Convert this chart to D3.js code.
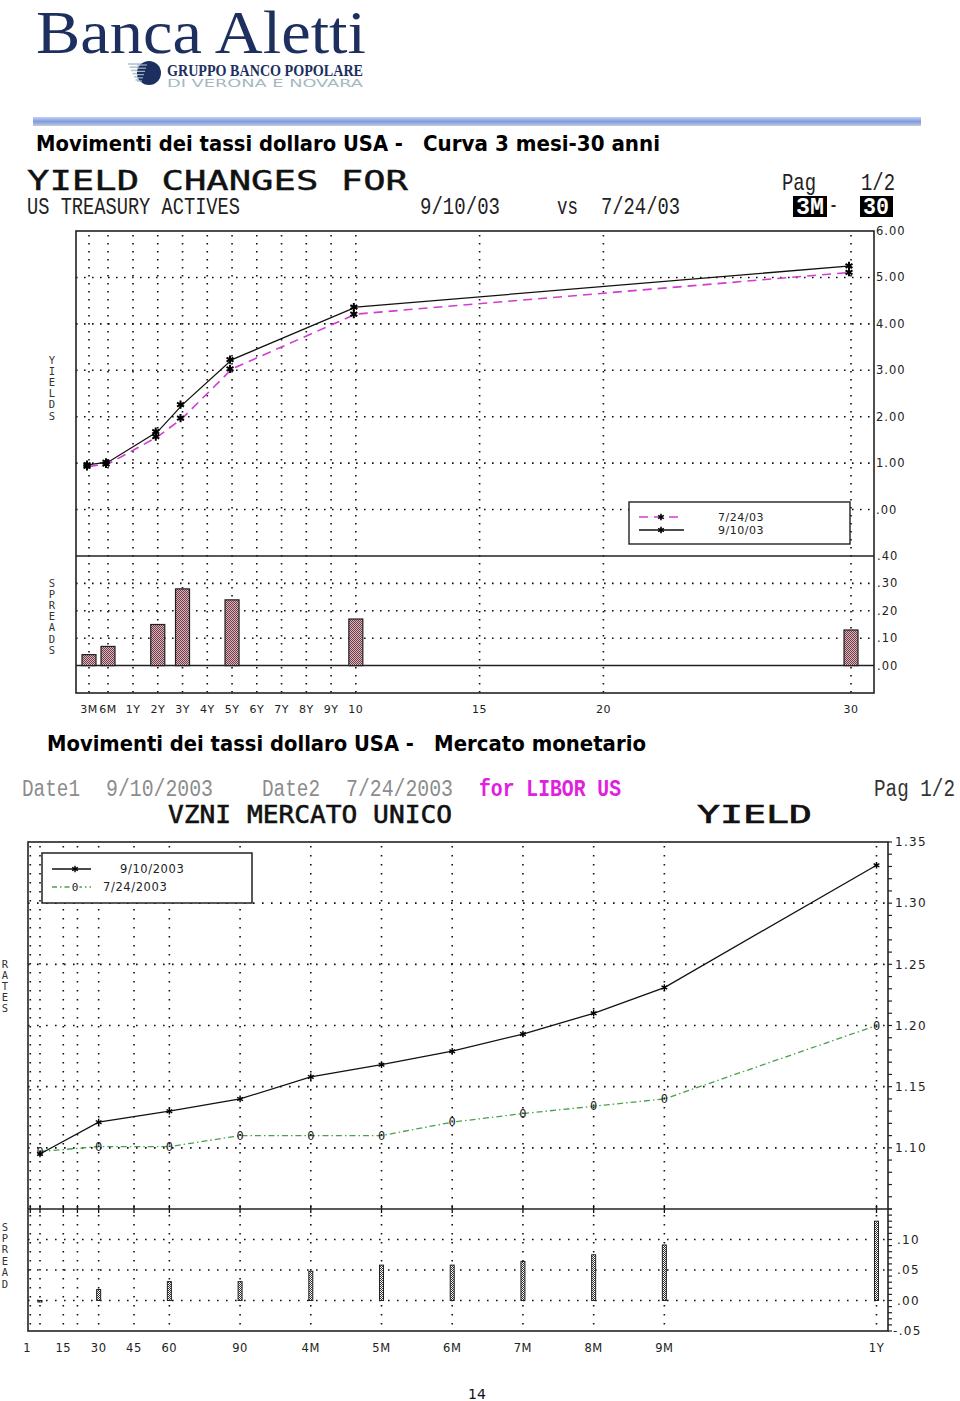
<!DOCTYPE html>
<html><head><meta charset="utf-8">
<script src="https://cdn.jsdelivr.net/npm/d3@7"></script>
<style>body{margin:0;background:#fff}svg{display:block}</style>
</head><body>
<script>
// ---------- Top chart data (US Treasury actives) ----------
const tenorsTop = ["3M","6M","2Y","3Y","5Y","10","30"];
const tenorYears = [0.25,0.5,2,3,5,10,30];
const yields0910 = [0.97,1.02,1.68,2.26,3.23,4.36,5.25];
const yields0724 = [0.93,0.98,1.57,1.97,3.03,4.21,5.11];
const spreadsTop = [0.04,0.07,0.15,0.28,0.24,0.17,0.13];
const xTickLabelsTop = ["3M","6M","1Y","2Y","3Y","4Y","5Y","6Y","7Y","8Y","9Y","10","15","20","30"];
const xTickYearsTop = [0.25,0.5,1,2,3,4,5,6,7,8,9,10,15,20,30];
const yieldTicks = [6,5,4,3,2,1,0];
const yieldTickLabels = ["6.00","5.00","4.00","3.00","2.00","1.00",".00"];
const spreadTicksTop = [0.4,0.3,0.2,0.1,0];
const spreadTickLabelsTop = [".40",".30",".20",".10",".00"];

// ---------- Bottom chart data (LIBOR US) ----------
const tenorsBot = ["1W","1M","2M","3M","4M","5M","6M","7M","8M","9M","1Y"];
const tenorDays = [7,30,60,90,120,150,180,210,240,270,360];
const rates0910 = [1.095,1.121,1.130,1.140,1.158,1.168,1.179,1.193,1.210,1.231,1.331];
const rates0724 = [1.097,1.101,1.101,1.110,1.110,1.110,1.121,1.128,1.134,1.140,1.200];
const spreadsBot = [-0.002,0.018,0.031,0.031,0.048,0.058,0.058,0.064,0.075,0.091,0.130];
const xTickLabelsBot = ["1","15","30","45","60","90","4M","5M","6M","7M","8M","9M","1Y"];
const xTickDaysBot = [1,15,30,45,60,90,120,150,180,210,240,270,360];
const gridDaysBot = [1,7,15,21,30,45,60,90,120,150,180,210,240,270,360];
const rateTicks = [1.35,1.30,1.25,1.20,1.15,1.10];
const rateTickLabels = ["1.35","1.30","1.25","1.20","1.15","1.10"];
const spreadTicksBot = [0.10,0.05,0.00,-0.05];
const spreadTickLabelsBot = [".10",".05",".00","-.05"];

const svg = d3.select("body").append("svg").attr("width",960).attr("height",1401);
const defs = svg.append("defs");
function checker(id, bg, fg){
  const p = defs.append("pattern").attr("id",id).attr("width",2).attr("height",2).attr("patternUnits","userSpaceOnUse");
  p.append("rect").attr("width",2).attr("height",2).attr("fill",bg);
  p.append("rect").attr("width",1).attr("height",1).attr("fill",fg);
  p.append("rect").attr("x",1).attr("y",1).attr("width",1).attr("height",1).attr("fill",fg);
}
checker("stippleTop","#dcb4bc","#6e3e4a");
checker("stippleBot","#ffffff","#333333");
const g1 = defs.append("linearGradient").attr("id","rule").attr("x1",0).attr("y1",0).attr("x2",0).attr("y2",1);
g1.append("stop").attr("offset","0").attr("stop-color","#c4d2f2");
g1.append("stop").attr("offset","0.5").attr("stop-color","#7e9ce0");
g1.append("stop").attr("offset","1").attr("stop-color","#c6ccd8");

function txt(x,y,s,opt){
  const t = svg.append("text").attr("x",x).attr("y",y).text(s);
  for (const k in opt) t.attr(k,opt[k]);
  return t;
}

// ---------- Logo ----------
txt(36,53,"Banca Aletti",{"font-family":"Liberation Serif","font-size":62,"fill":"#1c2f5e","textLength":330,"lengthAdjust":"spacingAndGlyphs"});
for (let i=0;i<6;i++){
  svg.append("line").attr("x1",128+i*1.5).attr("x2",150).attr("y1",64+i*3.2).attr("y2",64+i*3.2)
    .attr("stroke","#b4c4d0").attr("stroke-width",1.6);
}
svg.append("circle").attr("cx",149).attr("cy",73).attr("r",12).attr("fill","#1c2f5e");
for (let i=0;i<6;i++){
  svg.append("line").attr("x1",137).attr("x2",147-i).attr("y1",65+i*3.2).attr("y2",65+i*3.2)
    .attr("stroke","#9fb4c8").attr("stroke-width",1.2);
}
txt(167,76,"GRUPPO BANCO POPOLARE",{"font-family":"Liberation Serif","font-weight":"bold","font-size":16,"fill":"#1c2f5e","textLength":196,"lengthAdjust":"spacingAndGlyphs"});
txt(167,87,"DI VERONA E NOVARA",{"font-family":"DejaVu Sans","font-size":10,"fill":"#a4b8c2","textLength":196,"lengthAdjust":"spacingAndGlyphs"});

// ---------- Blue rule ----------
svg.append("rect").attr("x",33).attr("y",117).attr("width",888).attr("height",9).attr("fill","url(#rule)");

// ---------- Titles ----------
const titleFont = {"font-family":"DejaVu Sans","font-weight":"bold","font-size":21,"fill":"#000","lengthAdjust":"spacingAndGlyphs"};
txt(36,151,"Movimenti dei tassi dollaro USA -",Object.assign({},titleFont,{textLength:367}));
txt(423,151,"Curva 3 mesi-30 anni",Object.assign({},titleFont,{textLength:237}));
txt(47,751,"Movimenti dei tassi dollaro USA -",Object.assign({},titleFont,{textLength:367}));
txt(434,751,"Mercato monetario",Object.assign({},titleFont,{textLength:212}));

// ---------- Top header ----------
const mono = {"font-family":"DejaVu Sans Mono","lengthAdjust":"spacingAndGlyphs"};
txt(27,190,"YIELD CHANGES FOR",Object.assign({},mono,{"font-size":26,"textLength":381,"fill":"#111","stroke":"#111","stroke-width":0.4}));
const thin = {"font-family":"Liberation Mono","lengthAdjust":"spacingAndGlyphs","fill":"#222","font-size":24};
txt(27,214,"US TREASURY ACTIVES",Object.assign({},thin,{textLength:213}));
txt(420,214,"9/10/03",Object.assign({},thin,{textLength:80}));
txt(557,214,"vs",Object.assign({},thin,{textLength:21}));
txt(601,214,"7/24/03",Object.assign({},thin,{textLength:79}));
txt(782,190,"Pag",Object.assign({},thin,{textLength:34}));
txt(861,190,"1/2",Object.assign({},thin,{textLength:34}));
svg.append("rect").attr("x",793).attr("y",196).attr("width",34).attr("height",21).attr("fill","#000");
txt(796,214,"3M",Object.assign({},thin,{textLength:28,"fill":"#fff","font-weight":"bold"}));
txt(829,212,"-",Object.assign({},thin,{textLength:9}));
svg.append("rect").attr("x",860).attr("y",196).attr("width",33).attr("height",21).attr("fill","#000");
txt(863,214,"30",Object.assign({},thin,{textLength:26,"fill":"#fff","font-weight":"bold"}));

// ---------- Top chart ----------
const L1=76, R1=874, T1=231, D1=556, B1=693;
const xTop = d3.scaleLinear().domain([0.25,0.5,1,30]).range([89,108,133,851]);
const yYield = d3.scaleLinear().domain([-1,6]).range([D1,T1]);
const ySpr = d3.scaleLinear().domain([-0.1,0.4]).range([B1,D1]);
const dot = {"stroke":"#111","stroke-width":1.6,"stroke-dasharray":"1.6,6.4"};
function line(x1,y1,x2,y2,st){const l=svg.append("line").attr("x1",x1).attr("y1",y1).attr("x2",x2).attr("y2",y2);for(const k in st)l.attr(k,st[k]);return l;}

xTickYearsTop.forEach(v=>{ line(xTop(v),T1+4,xTop(v),B1,dot); });
yieldTicks.slice(1).forEach(v=>{ line(L1,yYield(v),R1,yYield(v),dot); });
spreadTicksTop.slice(1,4).forEach(v=>{ line(L1,ySpr(v),R1,ySpr(v),dot); });
line(L1,ySpr(0),R1,ySpr(0),{"stroke":"#222","stroke-width":1.5});
line(L1,D1,R1,D1,{"stroke":"#222","stroke-width":1.5});
svg.append("rect").attr("x",L1).attr("y",T1).attr("width",R1-L1).attr("height",B1-T1)
  .attr("fill","none").attr("stroke","#222").attr("stroke-width",1.6);

// spread bars
svg.append("g").selectAll("rect").data(spreadsTop).join("rect")
  .attr("x",(d,i)=>xTop(tenorYears[i])-7).attr("width",14)
  .attr("y",d=>ySpr(Math.max(d,0))).attr("height",d=>Math.abs(ySpr(d)-ySpr(0)))
  .attr("fill","url(#stippleTop)").attr("stroke","#222").attr("stroke-width",1.2);

// yield lines
const lineTop = (arr)=>d3.line().x((d,i)=>xTop(tenorYears[i])).y(d=>yYield(d))(arr);
svg.append("path").attr("d",lineTop(yields0724)).attr("fill","none").attr("stroke","#d23cd2").attr("stroke-width",1.6).attr("stroke-dasharray","9,6");
svg.append("path").attr("d",lineTop(yields0910)).attr("fill","none").attr("stroke","#111").attr("stroke-width",1.3);
const ast = d3.symbol().type(d3.symbolAsterisk).size(45);
[yields0724,yields0910].forEach(arr=>{
  svg.append("g").selectAll("path").data(arr).join("path")
    .attr("d",ast).attr("transform",(d,i)=>`translate(${xTop(tenorYears[i])-2},${yYield(d)})`)
    .attr("fill","none").attr("stroke","#000").attr("stroke-width",2);
});

// axis labels
const axFont = {"font-family":"DejaVu Sans","font-size":11.5,"fill":"#222","letter-spacing":1,"dy":"0.35em"};
yieldTicks.forEach((v,i)=>txt(876,yYield(v),yieldTickLabels[i],axFont));
spreadTicksTop.forEach((v,i)=>txt(877,ySpr(v),spreadTickLabelsTop[i],axFont));
xTickYearsTop.forEach((v,i)=>txt(xTop(v),709,xTickLabelsTop[i],Object.assign({},axFont,{"text-anchor":"middle","font-size":11,"letter-spacing":0.5})));
function vertical(x,y0,s,step){ s.split("").forEach((c,i)=>txt(x,y0+i*step,c,{"font-family":"DejaVu Sans Mono","font-size":10.5,"fill":"#333","text-anchor":"middle","dy":"0.35em"})); }
vertical(52,360,"YIELDS",11.2);
vertical(52,583,"SPREADS",11.2);

// legend top
svg.append("rect").attr("x",629).attr("y",502).attr("width",221).attr("height",42).attr("fill","#fff").attr("stroke","#222").attr("stroke-width",1.4);
line(639,517,684,517,{"stroke":"#d23cd2","stroke-width":1.6,"stroke-dasharray":"9,6"});
line(639,530,684,530,{"stroke":"#111","stroke-width":1.3});
svg.append("path").attr("d",d3.symbol().type(d3.symbolAsterisk).size(30)).attr("transform","translate(661,517)").attr("stroke","#000").attr("stroke-width",1.6);
svg.append("path").attr("d",d3.symbol().type(d3.symbolAsterisk).size(30)).attr("transform","translate(661,530)").attr("stroke","#000").attr("stroke-width",1.6);
txt(718,517,"7/24/03",Object.assign({},axFont,{"font-size":11,"letter-spacing":0.5}));
txt(718,530,"9/10/03",Object.assign({},axFont,{"font-size":11,"letter-spacing":0.5}));

// ---------- Bottom header ----------
const hdr = {"font-family":"Liberation Mono","lengthAdjust":"spacingAndGlyphs","font-size":23,"fill":"#8c8c8c"};
txt(22,796,"Date1",Object.assign({},hdr,{textLength:58}));
txt(106,796,"9/10/2003",Object.assign({},hdr,{textLength:107}));
txt(262,796,"Date2",Object.assign({},hdr,{textLength:58}));
txt(346,796,"7/24/2003",Object.assign({},hdr,{textLength:107}));
txt(479,796,"for LIBOR US",Object.assign({},hdr,{textLength:142,"fill":"#e020e0","font-weight":"bold"}));
txt(874,796,"Pag 1/2",Object.assign({},hdr,{textLength:81,"fill":"#333"}));
txt(168,823,"VZNI MERCATO UNICO",Object.assign({},mono,{"font-size":25,"textLength":284,"fill":"#111","stroke":"#111","stroke-width":0.6}));
txt(697,823,"YIELD",Object.assign({},mono,{"font-size":25,"textLength":115,"fill":"#111","stroke":"#111","stroke-width":0.6}));

// ---------- Bottom chart ----------
const L2=28, R2=888, T2=842, D2=1209, B2=1331;
const xBot = d3.scaleLinear().domain([1,7,15,360]).range([30.3,40,63.3,876.5]);
const yRate = d3.scaleLinear().domain([1.05,1.35]).range([D2,T2]);
const ySpr2 = d3.scaleLinear().domain([-0.05,0.15]).range([B2,D2]);
const dot2 = {"stroke":"#111","stroke-width":1.6,"stroke-dasharray":"1.6,7.4"};
gridDaysBot.forEach(v=>{ line(xBot(v),T2+4,xBot(v),B2,dot2); line(xBot(v),D2-4,xBot(v),D2+4,{"stroke":"#111","stroke-width":1.3}); });
rateTicks.slice(1).forEach(v=>line(L2,yRate(v),R2,yRate(v),dot2));
spreadTicksBot.slice(0,3).forEach(v=>line(L2,ySpr2(v),R2,ySpr2(v),dot2));
line(L2,D2,R2,D2,{"stroke":"#222","stroke-width":1.5});
svg.append("rect").attr("x",L2).attr("y",T2).attr("width",R2-L2).attr("height",B2-T2)
  .attr("fill","none").attr("stroke","#222").attr("stroke-width",1.6);
// minor ticks on right axis
d3.range(0,31).forEach(i=>line(R2,yRate(1.05+i*0.01),R2+4,yRate(1.05+i*0.01),{"stroke":"#222","stroke-width":1.2}));
d3.range(0,21).forEach(i=>line(R2,ySpr2(-0.05+i*0.01),R2+4,ySpr2(-0.05+i*0.01),{"stroke":"#222","stroke-width":1.2}));

// legend bottom
svg.append("rect").attr("x",42).attr("y",853).attr("width",210).attr("height",50).attr("fill","#fff").attr("stroke","#222").attr("stroke-width",1.5);
line(52,869,91,869,{"stroke":"#111","stroke-width":1.3});
svg.append("path").attr("d",d3.symbol().type(d3.symbolAsterisk).size(30)).attr("transform","translate(75,869)").attr("stroke","#000").attr("stroke-width",1.4);
line(52,887,91,887,{"stroke":"#4aa04a","stroke-width":1.3,"stroke-dasharray":"5,3,1.5,3"});
txt(75,887,"0",{"font-family":"DejaVu Sans Mono","font-size":11,"fill":"#222","text-anchor":"middle","dy":"0.35em","stroke":"#fff","stroke-width":3,"paint-order":"stroke"});
txt(120,869,"9/10/2003",{"font-family":"DejaVu Sans","font-size":11.5,"fill":"#222","letter-spacing":0.6,"dy":"0.35em"});
txt(103,887,"7/24/2003",{"font-family":"DejaVu Sans","font-size":11.5,"fill":"#222","letter-spacing":0.6,"dy":"0.35em"});

// spread bars bottom
svg.append("g").selectAll("rect").data(spreadsBot).join("rect")
  .attr("x",(d,i)=>xBot(tenorDays[i])-2).attr("width",4)
  .attr("y",d=>ySpr2(Math.max(d,0))).attr("height",d=>Math.max(1.5,Math.abs(ySpr2(d)-ySpr2(0))))
  .attr("fill","url(#stippleBot)").attr("stroke","#222").attr("stroke-width",1);

// rate lines
const lineBot = (arr)=>d3.line().x((d,i)=>xBot(tenorDays[i])).y(d=>yRate(d))(arr);
svg.append("path").attr("d",lineBot(rates0724)).attr("fill","none").attr("stroke","#4aa04a").attr("stroke-width",1.3).attr("stroke-dasharray","6,3,1.5,3");
svg.append("path").attr("d",lineBot(rates0910)).attr("fill","none").attr("stroke","#111").attr("stroke-width",1.3);
svg.append("g").selectAll("text").data(rates0724).join("text")
  .attr("x",(d,i)=>xBot(tenorDays[i])).attr("y",d=>yRate(d)).attr("dy","0.35em").text("0")
  .attr("font-family","DejaVu Sans Mono").attr("font-size",12).attr("text-anchor","middle").attr("fill","#222");
svg.append("g").selectAll("path").data(rates0910).join("path")
  .attr("d",d3.symbol().type(d3.symbolAsterisk).size(30))
  .attr("transform",(d,i)=>`translate(${xBot(tenorDays[i])},${yRate(d)})`)
  .attr("stroke","#000").attr("stroke-width",1.4);

const ax2 = {"font-family":"DejaVu Sans","font-size":12,"fill":"#222","letter-spacing":1.3,"dy":"0.35em"};
rateTicks.forEach((v,i)=>txt(895,yRate(v),rateTickLabels[i],ax2));
spreadTicksBot.forEach((v,i)=>txt(v<0?893:897,ySpr2(v),spreadTickLabelsBot[i],ax2));
xTickDaysBot.forEach((v,i)=>txt(xBot(v)-(v===1?3:0),1348,xTickLabelsBot[i],Object.assign({},ax2,{"text-anchor":"middle","font-size":11.5,"letter-spacing":0.6})));
vertical(5,964,"RATES",11.2);
vertical(5,1227,"SPREAD",11.4);

// page number
txt(477,1399,"14",{"font-family":"DejaVu Sans","font-size":14,"fill":"#111","text-anchor":"middle"});
</script>
</body></html>
